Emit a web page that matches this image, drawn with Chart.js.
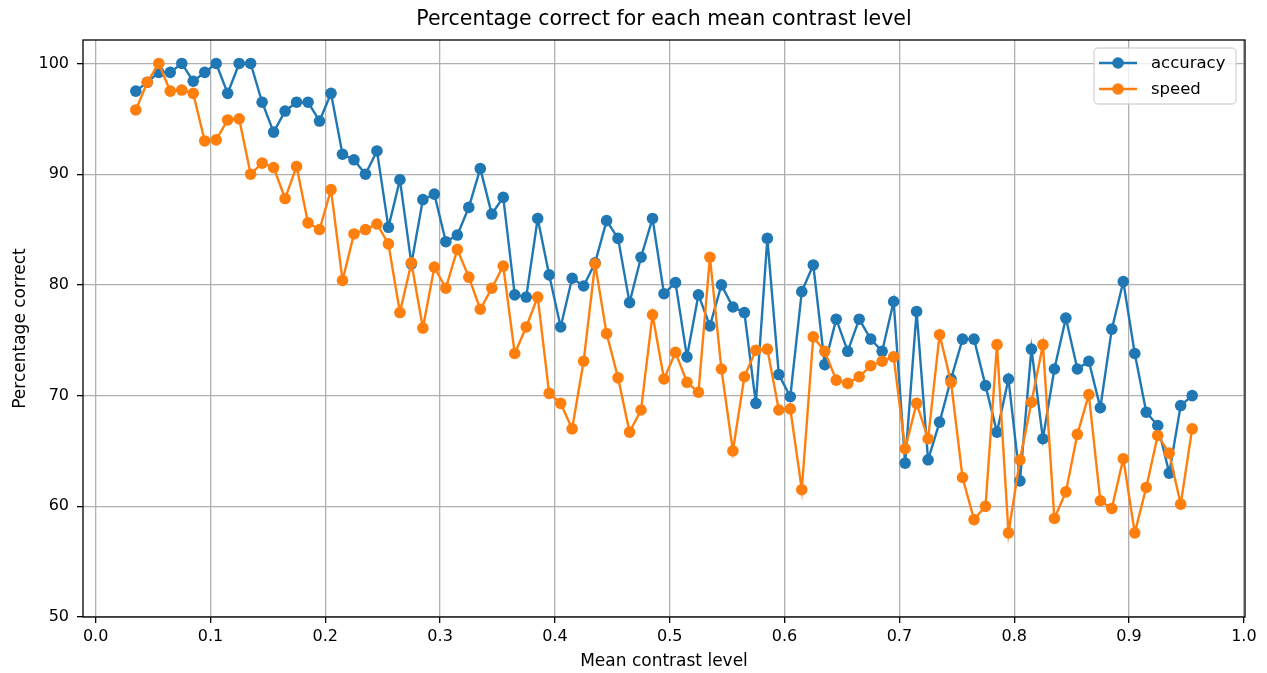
<!DOCTYPE html>
<html>
<head>
<meta charset="utf-8">
<title>Percentage correct for each mean contrast level</title>
<script src="https://cdn.jsdelivr.net/npm/chart.js@4.4.0/dist/chart.umd.min.js"></script>
<style>
  html, body { margin: 0; padding: 0; background: #fff; }
  #contrastChart { display: block; }
</style>
</head>
<body>
<canvas id="contrastChart" width="1267" height="673"></canvas>
<script>
// mean contrast level of each bin
const contrastLevels = [
  0.035, 0.045, 0.055, 0.065, 0.075, 0.085, 0.095, 0.105, 0.115, 0.125,
  0.135, 0.145, 0.155, 0.165, 0.175, 0.185, 0.195, 0.205, 0.215, 0.225,
  0.235, 0.245, 0.255, 0.265, 0.275, 0.285, 0.295, 0.305, 0.315, 0.325,
  0.335, 0.345, 0.355, 0.365, 0.375, 0.385, 0.395, 0.405, 0.415, 0.425,
  0.435, 0.445, 0.455, 0.465, 0.475, 0.485, 0.495, 0.505, 0.515, 0.525,
  0.535, 0.545, 0.555, 0.565, 0.575, 0.585, 0.595, 0.605, 0.615, 0.625,
  0.635, 0.645, 0.655, 0.665, 0.675, 0.685, 0.695, 0.705, 0.715, 0.725,
  0.735, 0.745, 0.755, 0.765, 0.775, 0.785, 0.795, 0.805, 0.815, 0.825,
  0.835, 0.845, 0.855, 0.865, 0.875, 0.885, 0.895, 0.905, 0.915, 0.925,
  0.935, 0.945, 0.955
];

// percentage correct, accuracy condition
const accuracy = [
  97.5, 98.3, 99.2, 99.2, 100, 98.4, 99.2, 100, 97.3, 100,
  100, 96.5, 93.8, 95.7, 96.5, 96.5, 94.8, 97.3, 91.8, 91.3,
  90.0, 92.1, 85.2, 89.5, 81.9, 87.7, 88.2, 83.9, 84.5, 87.0,
  90.5, 86.4, 87.9, 79.1, 78.9, 86.0, 80.9, 76.2, 80.6, 79.9,
  82.0, 85.8, 84.2, 78.4, 82.5, 86.0, 79.2, 80.2, 73.5, 79.1,
  76.3, 80.0, 78.0, 77.5, 69.3, 84.2, 71.9, 69.9, 79.4, 81.8,
  72.8, 76.9, 74.0, 76.9, 75.1, 74.0, 78.5, 63.9, 77.6, 64.2,
  67.6, 71.5, 75.1, 75.1, 70.9, 66.7, 71.5, 62.3, 74.2, 66.1,
  72.4, 77.0, 72.4, 73.1, 68.9, 76.0, 80.3, 73.8, 68.5, 67.3,
  63.0, 69.1, 70.0
];

// percentage correct, speed condition
const speed = [
  95.8, 98.3, 100, 97.5, 97.6, 97.3, 93.0, 93.1, 94.9, 95.0,
  90.0, 91.0, 90.6, 87.8, 90.7, 85.6, 85.0, 88.6, 80.4, 84.6,
  85.0, 85.5, 83.7, 77.5, 82.0, 76.1, 81.6, 79.7, 83.2, 80.7,
  77.8, 79.7, 81.7, 73.8, 76.2, 78.9, 70.2, 69.3, 67.0, 73.1,
  81.9, 75.6, 71.6, 66.7, 68.7, 77.3, 71.5, 73.9, 71.2, 70.3,
  82.5, 72.4, 65.0, 71.7, 74.1, 74.2, 68.7, 68.8, 61.5, 75.3,
  74.0, 71.4, 71.1, 71.7, 72.7, 73.1, 73.5, 65.2, 69.3, 66.1,
  75.5, 71.2, 62.6, 58.8, 60.0, 74.6, 57.6, 64.2, 69.4, 74.6,
  58.9, 61.3, 66.5, 70.1, 60.5, 59.8, 64.3, 57.6, 61.7, 66.4,
  64.8, 60.2, 67.0
];

const xTicks = [0.0, 0.1, 0.2, 0.3, 0.4, 0.5, 0.6, 0.7, 0.8, 0.9, 1.0];
const yTicks = [50, 60, 70, 80, 90, 100];

const BLUE = '#1f77b4';
const ORANGE = '#ff7f0e';
const FONT = "'DejaVu Sans', 'Liberation Sans', sans-serif";
const TITLE = 'Percentage correct for each mean contrast level';

function toPoints(values) {
  return values.map((v, i) => ({ x: contrastLevels[i], y: v }));
}

// title centred over the plot, full box around it, legend top right
const frameAndLegend = {
  id: 'frameAndLegend',
  afterDatasetsDraw(chart) {
    const { ctx, chartArea: a } = chart;
    ctx.save();
    ctx.strokeStyle = '#000';
    ctx.lineWidth = 1.3;
    ctx.strokeRect(a.left, a.top, a.right - a.left, a.bottom - a.top);

    ctx.fillStyle = '#000';
    ctx.font = '20.5px ' + FONT;
    ctx.textAlign = 'center';
    ctx.textBaseline = 'middle';
    ctx.fillText(TITLE, (a.left + a.right) / 2, 20);

    const box = { x: 1094, y: 48, w: 142, h: 56 };
    ctx.beginPath();
    ctx.roundRect(box.x, box.y, box.w, box.h, 4);
    ctx.fillStyle = 'rgba(255,255,255,0.8)';
    ctx.fill();
    ctx.strokeStyle = 'rgba(204,204,204,0.8)';
    ctx.lineWidth = 1.3;
    ctx.stroke();

    ctx.font = '16.5px ' + FONT;
    ctx.textAlign = 'left';
    chart.data.datasets.forEach((ds, i) => {
      const y = 63 + i * 26;
      ctx.strokeStyle = ds.borderColor;
      ctx.lineWidth = ds.borderWidth;
      ctx.beginPath();
      ctx.moveTo(1099, y);
      ctx.lineTo(1137, y);
      ctx.stroke();
      ctx.fillStyle = ds.borderColor;
      ctx.beginPath();
      ctx.arc(1118, y, ds.pointRadius, 0, Math.PI * 2);
      ctx.fill();
      ctx.fillStyle = '#000';
      ctx.fillText(ds.label, 1151, y + 1);
    });
    ctx.restore();
  }
};

const ctx = document.getElementById('contrastChart').getContext('2d');
const contrastChart = new Chart(ctx, {
  type: 'line',
  data: {
    datasets: [
      {
        label: 'accuracy',
        data: toPoints(accuracy),
        borderColor: BLUE,
        backgroundColor: BLUE,
        pointBackgroundColor: BLUE,
        pointBorderWidth: 0,
        pointRadius: 5.8,
        borderWidth: 2.4,
        tension: 0,
        order: 1
      },
      {
        label: 'speed',
        data: toPoints(speed),
        borderColor: ORANGE,
        backgroundColor: ORANGE,
        pointBackgroundColor: ORANGE,
        pointBorderWidth: 0,
        pointRadius: 5.8,
        borderWidth: 2.4,
        tension: 0,
        order: 0
      }
    ]
  },
  options: {
    responsive: false,
    devicePixelRatio: 1,
    animation: false,
    layout: { padding: { left: 0, right: 22, top: 40, bottom: 0 } },
    scales: {
      x: {
        type: 'linear',
        min: -0.011,
        max: 1.001,
        afterBuildTicks: scale => { scale.ticks = xTicks.map(v => ({ value: v })); },
        afterFit: scale => { scale.height = 56; },
        ticks: {
          callback: v => v.toFixed(1),
          font: { family: FONT, size: 16 },
          color: '#000',
          padding: 4,
          maxRotation: 0,
          autoSkip: false
        },
        grid: { color: '#b0b0b0', lineWidth: 1.3, tickLength: 6, tickColor: '#000', tickWidth: 1.3 },
        border: { display: false },
        title: {
          display: true,
          text: 'Mean contrast level',
          font: { family: FONT, size: 17 },
          color: '#000',
          padding: { top: 0, bottom: 1 }
        }
      },
      y: {
        min: 50,
        max: 102.12,
        afterBuildTicks: scale => { scale.ticks = yTicks.map(v => ({ value: v })); },
        afterFit: scale => { scale.width = 83; },
        ticks: {
          callback: v => String(v),
          font: { family: FONT, size: 16 },
          color: '#000',
          padding: 8
        },
        grid: { color: '#b0b0b0', lineWidth: 1.3, tickLength: 6, tickColor: '#000', tickWidth: 1.3 },
        border: { display: false },
        title: {
          display: true,
          text: 'Percentage correct',
          font: { family: FONT, size: 17 },
          color: '#000',
          padding: { top: 10, bottom: 0 }
        }
      }
    },
    plugins: {
      title: { display: false },
      legend: { display: false },
      tooltip: { enabled: false }
    }
  },
  plugins: [frameAndLegend]
});
</script>
</body>
</html>
